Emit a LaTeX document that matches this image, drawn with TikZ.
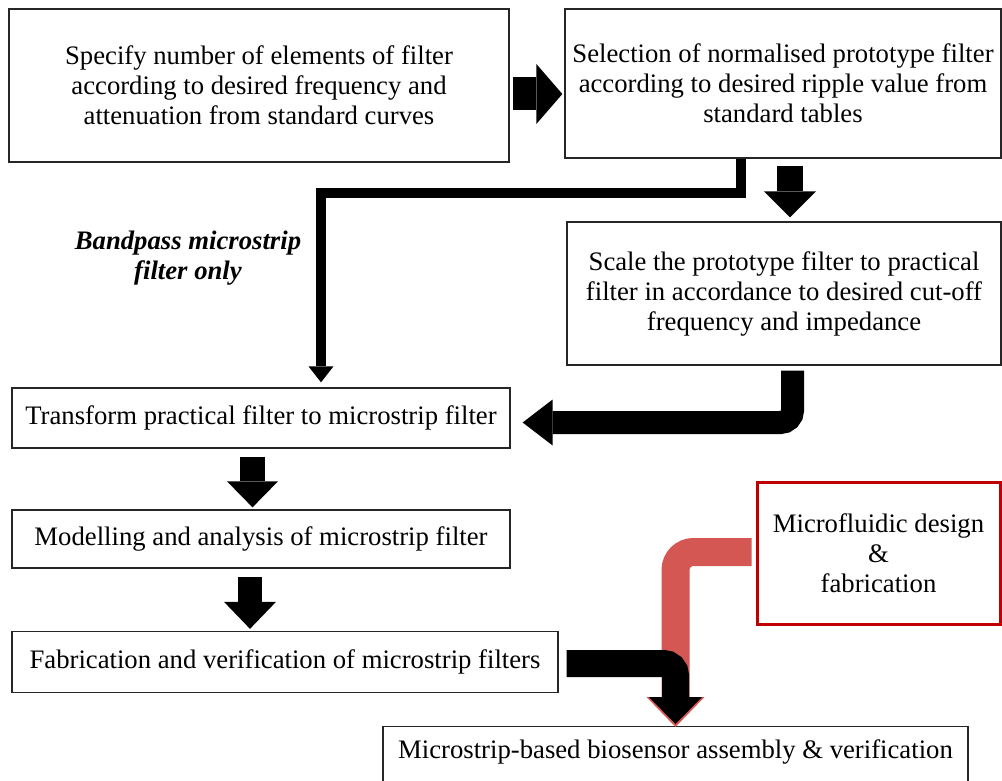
\documentclass[tikz,border=0pt]{standalone}
\usepackage{fontspec}
\setmainfont{Liberation Serif}
\usetikzlibrary{arrows.meta,calc}
\definecolor{pipered}{RGB}{213,87,83}
\definecolor{boxred}{RGB}{192,0,0}

\begin{document}
\begin{tikzpicture}[x=1pt, y=-1pt,
  every node/.style={align=center, inner sep=2pt, font=\fontsize{26.7}{30}\selectfont},
  box/.style={draw=black!85, line width=1.3pt, rectangle},
  fat/.style={line width=#1, draw=black},
  tip/.style 2 args={-{Triangle[length=#1, width=#2, line width=0pt]}}]
\useasboundingbox (0,0) rectangle (1002,781);

\node[box, minimum width=500, minimum height=153] (spec) at (259,85.5)
  {Specify number of elements of filter\\according to desired frequency and\\attenuation from standard curves};
\node[box, minimum width=436, minimum height=149] (proto) at (783,83.5)
  {Selection of normalised prototype filter\\according to desired ripple value from\\standard tables};
\node[box, minimum width=434, minimum height=143] (scale) at (784,293.5)
  {Scale the prototype filter to practical\\filter in accordance to desired cut-off\\frequency and impedance};
\node[box, minimum width=498, minimum height=60] (trans) at (261,418)
  {Transform practical filter to microstrip filter};
\node[box, minimum width=498, minimum height=58] (model) at (261,539)
  {Modelling and analysis of microstrip filter};
\node[box, minimum width=546, minimum height=61] (fab) at (285,662)
  {Fabrication and verification of microstrip filters};
\node[box, draw=boxred, line width=3pt, minimum width=243, minimum height=142] (fluid) at (878.5,553)
  {Microfluidic design\\\&\\fabrication};
\node[box, anchor=north, minimum width=585, inner sep=4pt, text height=28pt, text depth=30pt] (bio) at (675.5,726)
  {Microstrip-based biosensor assembly \& verification};
\node[font=\fontsize{26.7}{30}\selectfont\bfseries\itshape] (bp) at (188,258)
  {Bandpass microstrip\\filter only};

\draw[fat=33pt, tip={26pt}{60pt}] ($(spec.east)+(3,8.5)$) -- ($(proto.west)+(-2,10.5)$);
\draw[fat=26pt, tip={26pt}{52pt}] ($(proto.south)+(7,7)$) -- ($(scale.north)+(6,-4)$);
\draw[fat=10pt, miter limit=4, tip={16pt}{25pt}] ($(proto.south)+(-42,0)$) -- ++(0,34) -| ($(trans.north)+(60,-5)$);
\draw[fat=23pt, rounded corners=12pt, tip={30pt}{46pt}] ($(scale.south)+(8.5,5)$) |- ($(trans.east)+(12,4.5)$);
\draw[fat=25pt, tip={26pt}{51pt}] ($(trans.south)+(-8.5,8)$) -- ($(model.north)+(-8.5,-2)$);
\draw[fat=24pt, tip={27pt}{52pt}] ($(model.south)+(-11,8)$) -- ($(fab.north)+(-35,-2)$);
\draw[fat=28pt, draw=pipered, rounded corners=18pt, -{Triangle[length=30pt, width=58pt, line width=0pt, fill=pipered]}]
  ($(fluid.west)+(-4,-1)$) -| ($(bio.north)+(0,1)$);
\draw[fat=27pt, rounded corners=12pt, tip={27pt}{53pt}] ($(fab.east)+(8,1.5)$) -| ($(bio.north)+(0,-2)$);
\end{tikzpicture}
\end{document}
